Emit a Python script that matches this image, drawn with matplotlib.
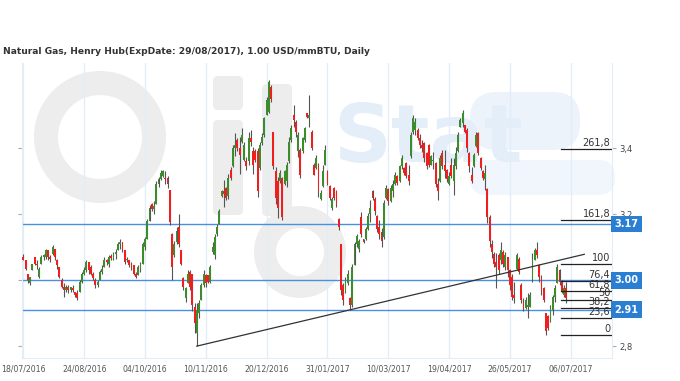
import matplotlib.pyplot as plt
import numpy as np
from matplotlib.patches import FancyBboxPatch, Wedge

title = "Natural Gas, Henry Hub(ExpDate: 29/08/2017), 1.00 USD/mmBTU, Daily"

date_labels = ["18/07/2016", "24/08/2016", "04/10/2016", "10/11/2016", "20/12/2016",
               "31/01/2017", "10/03/2017", "19/04/2017", "26/05/2017", "06/07/2017"]
bars_per_label = 27

# daily candles (USD/mmBTU)
opens = [
    3.07, 3.06, 3.02, 2.99, 3.03, 3.07, 3.05, 3.01, 3.05, 3.07,
    3.07, 3.09, 3.07, 3.08, 3.095, 3.06, 3.04, 3.0, 2.98, 2.97, 2.98, 2.97, 2.975, 2.965, 2.96,
    2.965, 2.995, 3.02, 3.03, 3.055, 3.04, 3.02, 3.0, 2.985, 3.0, 3.025, 3.04, 3.06, 3.05, 3.07,
    3.065, 3.08, 3.09, 3.11, 3.115, 3.09, 3.06, 3.06, 3.045, 3.045, 3.02, 3.015, 3.035, 3.05,
    3.1, 3.125, 3.18, 3.23, 3.215, 3.23,
    3.29, 3.305, 3.315, 3.31, 3.31, 3.272, 3.14, 3.075,
    3.115, 3.16, 3.09, 3.005, 2.945, 2.99, 3.025, 3.02, 2.92,
    2.84, 2.9, 2.94, 2.985, 3.015, 3.015, 2.995, 3.085, 3.075,
    3.14, 3.17, 3.255, 3.27, 3.28, 3.255, 3.335, 3.345, 3.4,
    3.425, 3.4, 3.42, 3.365, 3.36, 3.36, 3.43, 3.39, 3.39,
    3.39, 3.34, 3.415, 3.44, 3.5, 3.51, 3.585, 3.45, 3.33,
    3.3, 3.3, 3.31, 3.29, 3.3, 3.36, 3.425,
    3.5, 3.48, 3.39, 3.395, 3.39, 3.425, 3.505, 3.49,
    3.45, 3.35, 3.34, 3.35, 3.245, 3.285, 3.35,
    3.33, 3.285, 3.22, 3.28, 3.27, 3.185, 3.11, 2.985, 2.965,
    2.99, 2.945, 2.925, 3.045, 3.11, 3.095, 3.19, 3.125, 3.125,
    3.155, 3.2, 3.27, 3.245, 3.195, 3.16, 3.145, 3.13, 3.25,
    3.275, 3.24, 3.27, 3.29, 3.315, 3.3, 3.345, 3.34, 3.355,
    3.32, 3.375, 3.45, 3.455, 3.455, 3.43, 3.41, 3.415, 3.385,
    3.41, 3.35, 3.36, 3.355, 3.29, 3.3,
    3.385, 3.35, 3.335, 3.29, 3.35, 3.3, 3.345,
    3.39, 3.465, 3.475, 3.47, 3.455, 3.385, 3.32, 3.345, 3.405,
    3.445, 3.37, 3.33, 3.305, 3.275, 3.19, 3.11, 3.08, 3.055,
    3.075, 3.06, 3.085, 3.04, 3.07, 3.03, 3.01, 2.955,
    3.035, 3.065, 2.985, 2.935, 2.915, 2.92, 2.92, 3.0,
    3.06, 3.09, 3.045, 3.01, 2.975, 2.9, 2.89, 2.875, 2.91,
    2.95, 2.99, 3.03, 2.995, 2.955, 2.975,
]
highs = [
    3.08, 3.06, 3.02, 3.01, 3.05, 3.07, 3.06, 3.04, 3.075, 3.08,
    3.095, 3.09, 3.075, 3.105, 3.095, 3.065, 3.04, 3.005, 2.99, 2.985, 2.985, 2.98, 2.985, 2.965, 2.97,
    3.0, 3.025, 3.04, 3.06, 3.055, 3.045, 3.025, 3.005, 3.0, 3.03, 3.045, 3.07, 3.065, 3.075, 3.08,
    3.085, 3.095, 3.115, 3.125, 3.115, 3.09, 3.07, 3.06, 3.055, 3.045, 3.025, 3.045, 3.055, 3.115,
    3.13, 3.186, 3.227, 3.235, 3.24, 3.3,
    3.313, 3.333, 3.333, 3.33, 3.315, 3.272, 3.142, 3.12,
    3.16, 3.2, 3.09, 3.01, 2.98, 3.03, 3.03, 3.02, 2.93,
    2.93, 2.94, 2.99, 3.03, 3.02, 3.015, 3.045, 3.115, 3.14,
    3.17, 3.217, 3.273, 3.303, 3.283, 3.323, 3.343, 3.41, 3.445,
    3.43, 3.435, 3.46, 3.42, 3.374, 3.45, 3.455, 3.404, 3.396,
    3.4, 3.42, 3.445, 3.495, 3.556, 3.606, 3.59, 3.45, 3.343,
    3.313, 3.333, 3.313, 3.333, 3.358, 3.434, 3.47,
    3.53, 3.485, 3.45, 3.4, 3.434, 3.465, 3.505, 3.56,
    3.455, 3.354, 3.379, 3.354, 3.273, 3.348, 3.409,
    3.333, 3.288, 3.252, 3.283, 3.273, 3.187, 3.11, 2.99, 3.01,
    3.03, 2.95, 3.05, 3.116, 3.141, 3.126, 3.207, 3.126, 3.162,
    3.202, 3.242, 3.273, 3.252, 3.197, 3.182, 3.157, 3.242, 3.288,
    3.278, 3.288, 3.303, 3.328, 3.318, 3.348, 3.379, 3.343, 3.359,
    3.348, 3.45, 3.5, 3.49, 3.46, 3.444, 3.424, 3.419, 3.389,
    3.414, 3.379, 3.389, 3.359, 3.308, 3.379,
    3.394, 3.394, 3.338, 3.328, 3.369, 3.369, 3.404,
    3.45, 3.49, 3.515, 3.47, 3.46, 3.389, 3.343, 3.384, 3.45,
    3.45, 3.374, 3.333, 3.348, 3.278, 3.197, 3.121, 3.086, 3.081,
    3.081, 3.116, 3.091, 3.086, 3.071, 3.035, 3.02, 2.995,
    3.081, 3.071, 2.99, 2.945, 2.95, 2.96, 2.965, 3.081,
    3.096, 3.116, 3.05, 3.015, 2.98, 2.9, 2.894, 2.924, 2.955,
    2.985, 3.048, 3.035, 3.0, 2.985, 2.995,
]
lows = [
    3.06, 3.03, 2.99, 2.985, 3.03, 3.045, 3.035, 3.005, 3.05, 3.06,
    3.065, 3.06, 3.055, 3.075, 3.06, 3.035, 3.005, 2.975, 2.95, 2.965, 2.96, 2.965, 2.965, 2.95, 2.94,
    2.965, 2.99, 3.015, 3.025, 3.02, 3.015, 3.0, 2.975, 2.98, 3.0, 3.02, 3.04, 3.045, 3.04, 3.06,
    3.06, 3.065, 3.09, 3.095, 3.085, 3.05, 3.055, 3.04, 3.03, 3.015, 3.005, 3.015, 3.025, 3.05,
    3.09, 3.125, 3.18, 3.21, 3.2, 3.23,
    3.283, 3.303, 3.313, 3.29, 3.278, 3.167, 3.0, 3.07,
    3.11, 3.1, 3.045, 2.97, 2.935, 2.99, 2.97, 2.905, 2.84,
    2.80, 2.885, 2.94, 2.98, 2.98, 2.99, 2.99, 3.08, 3.065,
    3.135, 3.17, 3.253, 3.222, 3.243, 3.247, 3.303, 3.343, 3.375,
    3.39, 3.323, 3.415, 3.36, 3.333, 3.35, 3.405, 3.323, 3.358,
    3.253, 3.333, 3.41, 3.435, 3.5, 3.505, 3.54, 3.338, 3.232,
    3.187, 3.293, 3.182, 3.288, 3.283, 3.354, 3.42,
    3.465, 3.434, 3.374, 3.308, 3.384, 3.42, 3.49, 3.465,
    3.394, 3.318, 3.338, 3.252, 3.242, 3.283, 3.348,
    3.288, 3.242, 3.212, 3.242, 3.222, 3.152, 2.955, 2.925, 2.96,
    2.985, 2.91, 2.92, 3.045, 3.1, 3.086, 3.131, 3.111, 3.121,
    3.152, 3.177, 3.242, 3.197, 3.146, 3.126, 3.101, 3.126, 3.247,
    3.227, 3.237, 3.252, 3.288, 3.288, 3.298, 3.338, 3.318, 3.308,
    3.288, 3.369, 3.444, 3.44, 3.424, 3.399, 3.389, 3.359, 3.338,
    3.343, 3.348, 3.338, 3.283, 3.242, 3.298,
    3.338, 3.308, 3.298, 3.288, 3.308, 3.258, 3.338,
    3.389, 3.465, 3.465, 3.445, 3.389, 3.328, 3.293, 3.343, 3.404,
    3.379, 3.333, 3.303, 3.273, 3.172, 3.101, 3.066, 3.04, 2.975,
    3.02, 3.05, 3.04, 3.03, 3.01, 2.97, 2.94, 2.93,
    3.03, 3.02, 2.93, 2.905, 2.914, 2.884, 2.919, 2.995,
    3.06, 3.066, 2.995, 2.955, 2.934, 2.833, 2.849, 2.874, 2.894,
    2.934, 2.99, 2.985, 2.96, 2.95, 2.93,
]
closes = [
    3.06, 3.035, 3.0, 3.01, 3.05, 3.05, 3.045, 3.035, 3.07, 3.075,
    3.09, 3.07, 3.065, 3.1, 3.07, 3.045, 3.01, 2.98, 2.97, 2.98, 2.97, 2.978, 2.97, 2.955, 2.945,
    2.995, 3.02, 3.03, 3.055, 3.03, 3.02, 3.005, 2.985, 2.995, 3.025, 3.035, 3.06, 3.055, 3.07, 3.068,
    3.08, 3.085, 3.11, 3.115, 3.09, 3.055, 3.065, 3.045, 3.04, 3.02, 3.01, 3.04, 3.05, 3.11,
    3.125, 3.18, 3.22, 3.215, 3.225, 3.29,
    3.305, 3.325, 3.33, 3.305, 3.29, 3.175, 3.04, 3.11,
    3.15, 3.11, 3.05, 2.98, 2.975, 3.02, 2.98, 2.925, 2.87,
    2.91, 2.93, 2.985, 3.02, 2.99, 2.995, 3.04, 3.1, 3.13,
    3.16, 3.21, 3.27, 3.26, 3.25, 3.31, 3.31, 3.4, 3.41,
    3.4, 3.38, 3.44, 3.41, 3.345, 3.43, 3.42, 3.35, 3.365,
    3.27, 3.41, 3.435, 3.49, 3.545, 3.6, 3.55, 3.345, 3.25,
    3.22, 3.325, 3.19, 3.33, 3.35, 3.42, 3.46,
    3.485, 3.45, 3.44, 3.32, 3.43, 3.46, 3.493, 3.5,
    3.4, 3.32, 3.37, 3.27, 3.265, 3.33, 3.395,
    3.29, 3.25, 3.245, 3.25, 3.23, 3.16, 2.97, 2.94, 3.0,
    3.02, 2.925, 3.04, 3.11, 3.135, 3.12, 3.14, 3.115, 3.155,
    3.195, 3.22, 3.25, 3.21, 3.155, 3.14, 3.12, 3.235, 3.28,
    3.24, 3.28, 3.29, 3.32, 3.295, 3.345, 3.37, 3.325, 3.315,
    3.3, 3.44, 3.49, 3.48, 3.43, 3.41, 3.4, 3.37, 3.345,
    3.35, 3.375, 3.365, 3.29, 3.27, 3.37,
    3.345, 3.33, 3.305, 3.315, 3.315, 3.35, 3.385,
    3.44, 3.485, 3.505, 3.45, 3.4, 3.345, 3.3, 3.38, 3.44,
    3.385, 3.34, 3.31, 3.325, 3.19, 3.12, 3.085, 3.05, 3.04,
    3.03, 3.09, 3.05, 3.075, 3.03, 2.985, 2.95, 2.945,
    3.075, 3.025, 2.94, 2.915, 2.94, 2.925, 2.955, 3.065,
    3.09, 3.075, 3.01, 2.97, 2.94, 2.845, 2.855, 2.915, 2.95,
    2.975, 3.04, 2.995, 2.965, 2.975, 2.945,
]

marked_levels = [3.17, 3.00, 2.91]
fib_ratios = [0, 23.6, 38.2, 50, 61.8, 76.4, 100, 161.8, 261.8]
price_ticks = [2.8, 3.0, 3.2, 3.4]

GREEN = "#3b8c2a"
RED = "#f21d1d"
BLUE = "#4a90e2"
BOX = "#2b7fd3"
PALE = "#e2edf7"


def main():
    o, h, l, c = (np.array(v) for v in (opens, highs, lows, closes))
    x = np.arange(len(c))

    fig = plt.figure(figsize=(6.8, 3.81), dpi=100)

    # watermark layer in pixel coordinates
    bg = fig.add_axes([0, 0, 1, 1])
    bg.set_xlim(0, 680)
    bg.set_ylim(381, 0)
    bg.axis("off")
    grey = "#ededed"
    bg.add_patch(Wedge((100, 137), 66, 0, 360, width=24, color=grey, lw=0))
    for (x0, y0, w, hgt) in [(213, 76, 30, 34), (213, 120, 30, 95), (262, 84, 30, 132)]:
        bg.add_patch(FancyBboxPatch((x0, y0), w, hgt, boxstyle="round,pad=0,rounding_size=5",
                                    color=grey, lw=0))
    bg.add_patch(Wedge((300, 252), 46, 0, 360, width=22, color=grey, lw=0))
    bg.add_patch(FancyBboxPatch((470, 92), 110, 58, boxstyle="round,pad=0,rounding_size=27",
                                color="#ecf3fb", lw=0))
    bg.add_patch(FancyBboxPatch((470, 160), 145, 35, boxstyle="round,pad=0,rounding_size=17",
                                color="#f0f6fc", lw=0))
    bg.text(333, 162, "Stat", fontsize=58, fontweight="bold", color="#e4eef8")

    ax = fig.add_axes([22 / 680, 1 - 358 / 381, 590 / 680, 295 / 381])
    ax.set_facecolor("none")

    # candles
    ax.vlines(x, l, h, color="#555555", lw=0.8, zorder=3)
    ax.bar(x, np.maximum(np.abs(c - o), 0.004), bottom=np.minimum(o, c), width=0.85,
           color=np.where(c >= o, GREEN, RED), zorder=4)

    # support / resistance levels with price boxes
    for lvl in marked_levels:
        ax.axhline(lvl, color=BLUE, lw=1.0, zorder=2)
        ax.text(1.004, lvl, f"{lvl:.2f}", transform=ax.get_yaxis_transform(), ha="left",
                va="center", color="white", fontsize=7, fontweight="bold", zorder=6,
                bbox=dict(boxstyle="square,pad=0.35", fc=BOX, ec="none"), clip_on=False)

    # trend line through the two swing lows
    i1 = int(np.argmin(l[:100]))
    i2 = 130 + int(np.argmin(l[130:160]))
    slope = (l[i2] - l[i1]) / (i2 - i1)
    xe = 249
    ax.plot([i1, xe], [l[i1], l[i1] + slope * (xe - i1)], color="#333333", lw=0.9, zorder=5)

    # fibonacci levels on the last swing
    lo_i = len(l) - 20 + int(np.argmin(l[-20:]))
    hi_i = lo_i + int(np.argmax(h[lo_i:]))
    lo, hi = l[lo_i], h[hi_i]
    x_end = 261.3
    for r in fib_ratios:
        y = lo + (hi - lo) * r / 100
        ax.plot([hi_i + 1.5, x_end], [y, y], color="#222222", lw=0.9, zorder=5)
        ax.text(x_end - 0.8, y + 0.004, f"{r:g}".replace(".", ","), ha="right", va="bottom",
                fontsize=7, color="#333333", zorder=6)

    ax.set_xlim(-0.6, x_end)
    ax.set_ylim(2.764, 3.658)
    ax.set_xticks(np.arange(len(date_labels)) * bars_per_label)
    ax.set_xticklabels(date_labels)
    ax.set_yticks(price_ticks)
    # the 3,0 label sits under the 3.00 price box, so leave it empty
    ax.set_yticklabels(["" if p in marked_levels else f"{p:.1f}".replace(".", ",")
                        for p in price_ticks])
    ax.yaxis.tick_right()
    ax.tick_params(axis="y", left=True, right=True, labelleft=False, labelright=True,
                   length=3, width=0.8, color="#aaaaaa", labelsize=6, labelcolor="#444444", pad=2)
    ax.tick_params(axis="x", length=0, labelsize=5.6, labelcolor="#555555", pad=5)
    ax.grid(axis="x", color=PALE, lw=1)
    ax.set_axisbelow(True)
    for side in ("left", "right", "bottom"):
        ax.spines[side].set_color(PALE)
    ax.spines["top"].set_visible(False)

    fig.text(3 / 680, 1 - 52 / 381, title, fontsize=6.6, fontweight="bold", color="#333333",
             va="center")

    fig.savefig("out.png", dpi=100)


main()
